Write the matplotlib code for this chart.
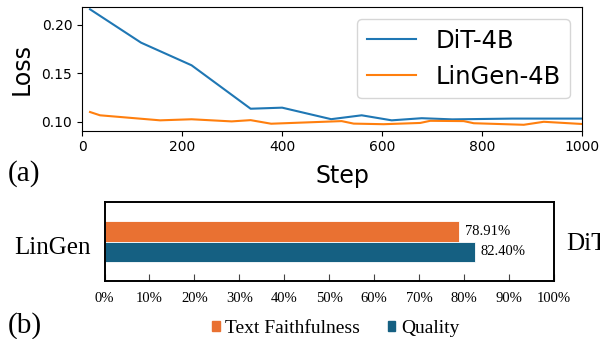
import matplotlib
matplotlib.use("Agg")
import matplotlib.pyplot as plt
import matplotlib.patches as mpatches

# (a) training loss
dit_steps = [16, 118, 219, 337, 400, 498, 559, 619, 679, 740, 800, 860, 1000]
dit_loss = [0.2162, 0.1817, 0.1583, 0.1134, 0.1145, 0.1026, 0.1066, 0.1014, 0.1036,
            0.1024, 0.1028, 0.1032, 0.1032]
lin_steps = [16, 36, 156, 219, 299, 337, 378, 519, 543, 603, 676, 696, 763, 783,
             883, 923, 1000]
lin_loss = [0.1100, 0.1066, 0.1014, 0.1025, 0.1003, 0.1016, 0.0979, 0.1006, 0.0980,
            0.0974, 0.0987, 0.1009, 0.1006, 0.0984, 0.0968, 0.0999, 0.0976]

# (b) win rate
metrics = ["Text Faithfulness", "Quality"]
rates = [78.91, 82.40]
rate_labels = ["78.91%", "82.40%"]
bar_colors = ["#E97132", "#156082"]
pct_ticks = list(range(0, 101, 10))

fig = plt.figure(figsize=(6, 3.39), dpi=100)

ax = fig.add_axes([0.1367, 0.6145, 0.8338, 0.3658])
ax.plot(dit_steps, dit_loss, color="#1f77b4", lw=1.5, label="DiT-4B")
ax.plot(lin_steps, lin_loss, color="#ff7f0e", lw=1.5, label="LinGen-4B")
ax.set_xlim(0, 1000)
ax.set_ylim(0.0907, 0.2189)
ax.set_xticks(range(0, 1001, 200))
ax.set_yticks([0.10, 0.15, 0.20])
ax.tick_params(labelsize=10)
ax.set_xlabel("Step", fontsize=17, labelpad=7, x=0.52)
ax.set_ylabel("Loss", fontsize=17, labelpad=6)
ax.legend(loc="upper right", fontsize=17.5)

serif = ["Liberation Serif", "DejaVu Serif"]

bx = fig.add_axes([0.1742, 0.1711, 0.7492, 0.2322])
ypos = [0.263, -0.263]
bx.barh(ypos, rates, height=0.526, color=bar_colors, edgecolor="white", linewidth=0.6)
for y, r, t in zip(ypos, rates, rate_labels):
    bx.text(r + 1.3, y, t, va="center", ha="left", fontsize=10.5, family=serif)
bx.set_xlim(0, 100)
bx.set_ylim(-1, 1)
bx.set_yticks([])
bx.set_xticks(pct_ticks)
bx.set_xticklabels([f"{p}%" for p in pct_ticks], family=serif, fontsize=10.5)
bx.tick_params(axis="x", direction="in", length=5, color="#444444", pad=8)
for s in bx.spines.values():
    s.set_linewidth(1.4)

fig.text(0.151, 0.2499, "LinGen", ha="right", va="baseline", fontsize=18, family=serif)
fig.text(0.9445, 0.2625, "DiT", ha="left", va="baseline", fontsize=18, family=serif)

fig.text(0.0133, 0.466, "(a)", ha="left", va="baseline", fontsize=21, family=serif)
fig.text(0.0133, 0.0177, "(b)", ha="left", va="baseline", fontsize=21, family=serif)

handles = [mpatches.Patch(color=c, label=m) for c, m in zip(bar_colors, metrics)]
fig.legend(handles=handles, loc="center", bbox_to_anchor=(0.5595, 0.032), ncol=2,
           frameon=False, prop={"family": serif, "size": 14}, handlelength=0.4,
           handleheight=0.4, handletextpad=0.3, columnspacing=1.4, borderpad=0.1)

fig.savefig("out.png", dpi=100)
